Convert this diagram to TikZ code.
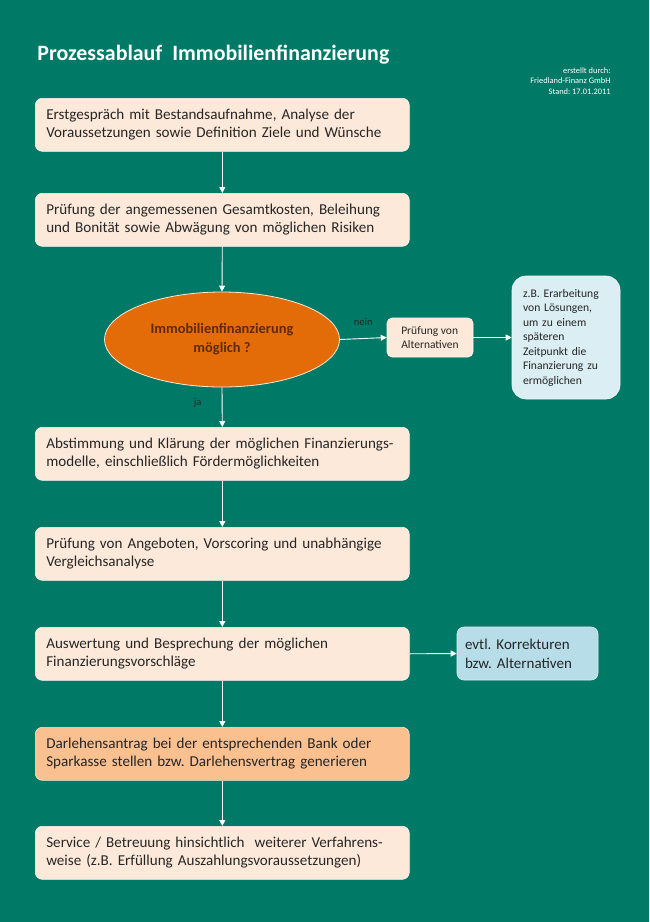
\documentclass[tikz,border=0pt]{standalone}
\usepackage{fontspec}
\setmainfont{Carlito}
\usetikzlibrary{arrows.meta, positioning, shapes.geometric}
\frenchspacing
\definecolor{cteal}{HTML}{007A66}
\definecolor{cpeach}{HTML}{FDE9D9}
\definecolor{capricot}{HTML}{FAC090}
\definecolor{corange}{HTML}{E36C09}
\definecolor{cbrown}{HTML}{5F2A0A}
\definecolor{cice}{HTML}{DAEEF3}
\definecolor{csky}{HTML}{B6DDE8}
\definecolor{ctext}{HTML}{262626}
\tikzset{
  every picture/.style={line width=0.9pt},
  stepbox/.style={fill=#1, draw=white!55!#1, line width=0.6pt, rounded corners=7pt, text=ctext, align=left, anchor=north west,
    minimum width=374pt, minimum height=53pt, text width=352pt, inner xsep=11pt, font=\fontsize{15.1}{18}\selectfont},
  stepbox/.default=cpeach,
  sidebox/.style={fill=#1, draw=white!55!#1, line width=0.6pt, rounded corners=7pt, text=ctext, align=left, inner xsep=10pt},
  sidebox/.default=cice,
  decision/.style={ellipse, fill=corange, draw=cpeach, line width=0.8pt, minimum width=235pt, minimum height=95pt, inner sep=0pt,
    text=cbrown, align=center, font=\fontsize{14.4}{19}\selectfont\bfseries},
  flow/.style={-{Triangle[length=6pt, width=6pt]}, draw=white, line width=0.9pt},
  title/.style={text=white, font=\fontsize{21.9}{26}\selectfont\bfseries},
  info/.style={text=white, align=right, font=\fontsize{8.4}{10.5}\selectfont},
  lbl/.style={text=ctext, font=\fontsize{10.5}{12}\selectfont},
}

\begin{document}
\begin{tikzpicture}[x=1pt, y=-1pt]
  % background
  \fill[cteal] (0,0) rectangle (649,922);
  \node[title, anchor=base west, inner sep=0pt] (head) at (37,60) {Prozessablauf\ \ Immobilienfinanzierung};
  \node[info, anchor=north east, inner sep=0pt] (made) at (611,67) {erstellt durch:\\Friedland-Finanz GmbH\\Stand: 17.01.2011};
  % main flow
  \node[stepbox] (s1) at (35,98) {Erstgespräch mit Bestandsaufnahme, Analyse der\\Voraussetzungen sowie Definition Ziele und Wünsche};
  \node[stepbox] (s2) at (35,193) {Prüfung der angemessenen Gesamtkosten, Beleihung\\und Bonität sowie Abwägung von möglichen Risiken};
  \node[decision] (check) at (222,339.5) {Immobilienfinanzierung\\möglich ?};
  \node[stepbox] (s3) at (35,427) {Abstimmung und Klärung der möglichen Finanzierungs-\\modelle, einschließlich Fördermöglichkeiten};
  \node[stepbox] (s4) at (35,527) {Prüfung von Angeboten, Vorscoring und unabhängige\\Vergleichsanalyse};
  \node[stepbox, minimum width=373pt] (s5) at (35,627) {Auswertung und Besprechung der möglichen\\Finanzierungsvorschläge};
  \node[stepbox=capricot, minimum width=373pt] (s6) at (35,727) {Darlehensantrag bei der entsprechenden Bank oder\\Sparkasse stellen bzw. Darlehensvertrag generieren};
  \node[stepbox, minimum width=373pt] (s7) at (35,826) {Service / Betreuung hinsichtlich\ \ weiterer Verfahrens-\\weise (z.B. Erfüllung Auszahlungsvoraussetzungen)};
  % side branches
  \node[sidebox=cpeach, minimum width=86pt, minimum height=39pt, rounded corners=5pt, inner xsep=10pt,
    font=\fontsize{11.5}{14.5}\selectfont] (alt) at (430,337.5) {Prüfung von\\Alternativen};
  \node[sidebox, minimum width=108pt, minimum height=123pt, text width=86pt, inner xsep=11pt, rounded corners=14pt,
    font=\fontsize{11.6}{14.5}\selectfont] (later) at (566,337.5) {z.B. Erarbeitung\\von Lösungen,\\um zu einem\\späteren\\Zeitpunkt die\\Finanzierung zu\\ermöglichen};
  \node[sidebox=csky, minimum width=141pt, minimum height=53pt, text width=125pt, inner xsep=8pt,
    font=\fontsize{15}{19}\selectfont] (fix) at (527.5,653.5) {evtl. Korrekturen\\bzw. Alternativen};
  % connectors
  \draw[flow] (s1.south) -- (s2.north);
  \draw[flow] (s2.south) -- (check.north);
  \draw[flow] (check.south) -- (s3.north) node[lbl, pos=0.4, left=17pt] (yes) {ja};
  \draw[flow] (s3.south) -- (s4.north);
  \draw[flow] (s4.south) -- (s5.north);
  \draw[flow] (s5.south) -- (s6.north);
  \draw[flow] (s6.south) -- (s7.north);
  \draw[flow] (check.east) -- (alt.west) node[lbl, midway, above=9pt] (no) {nein};
  \draw[flow] (alt.east) -- (later.west);
  \draw[flow] (s5.east) -- (fix.west);
\end{tikzpicture}
\end{document}
